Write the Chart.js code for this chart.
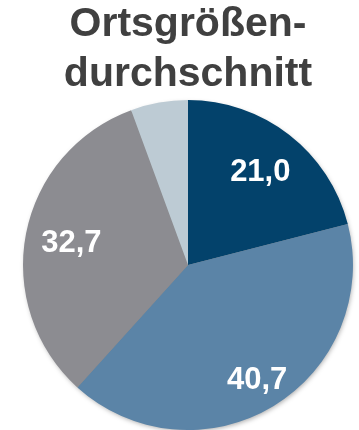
<!DOCTYPE html>
<html><head><meta charset="utf-8">
<script src="https://cdn.jsdelivr.net/npm/chart.js@4"></script>
<style>html,body{margin:0;padding:0;background:#fff}#w{width:359px;height:430px}</style>
</head><body><div id="w"><canvas id="c"></canvas></div>
<script>
const titleLines = ['Ortsgrößen-', 'durchschnitt'];
const categories = ['A', 'B', 'C', 'D'];
const values = [21.0, 40.7, 32.7, 5.6];
const valueLabels = ['21,0', '40,7', '32,7', ''];
const colors = ['#03426b', '#5b84a7', '#8c8c91', '#bdcbd4'];

const shadowPlugin = {
  id: 'pieShadow',
  beforeDatasetsDraw(chart) {
    const a = chart.getDatasetMeta(0).data[0];
    if (!a) return;
    const ctx = chart.ctx;
    ctx.save();
    ctx.shadowColor = 'rgba(0,0,0,0.35)';
    ctx.shadowBlur = 5;
    ctx.shadowOffsetX = 1;
    ctx.shadowOffsetY = 2;
    ctx.fillStyle = '#888';
    ctx.beginPath();
    ctx.arc(a.x, a.y, a.outerRadius - 1, 0, Math.PI * 2);
    ctx.fill();
    ctx.restore();
  }
};
const labelPlugin = {
  id: 'sliceLabels',
  afterDatasetsDraw(chart, args, opts) {
    const ctx = chart.ctx;
    const meta = chart.getDatasetMeta(0);
    ctx.save();
    ctx.fillStyle = '#ffffff';
    ctx.font = 'bold 31px "Liberation Sans", Arial, sans-serif';
    ctx.textAlign = 'center';
    ctx.textBaseline = 'middle';
    meta.data.forEach((arc, i) => {
      const t = valueLabels[i];
      if (!t) return;
      const mid = (arc.startAngle + arc.endAngle) / 2;
      const r = arc.outerRadius * opts.dist[i];
      ctx.fillText(t, arc.x + Math.cos(mid) * r, arc.y + Math.sin(mid) * r + 1);
    });
    ctx.restore();
  }
};

new Chart(document.getElementById('c'), {
  type: 'pie',
  data: {
    labels: categories,
    datasets: [{ data: values, backgroundColor: colors, borderWidth: 0, hoverOffset: 0 }]
  },
  options: {
    responsive: true,
    maintainAspectRatio: false,
    animation: false,
    events: [],
    layout: { padding: { left: 17, right: 0, top: 0, bottom: 0 } },
    plugins: {
      legend: { display: false },
      tooltip: { enabled: false },
      title: {
        display: true,
        text: titleLines,
        color: '#404040',
        font: { family: '"Liberation Sans", Arial, sans-serif', size: 41, weight: 'bold', lineHeight: 1.22 },
        padding: { top: 0, bottom: 0 }
      },
      sliceLabels: { dist: [0.715, 0.81, 0.72, 0.7] }
    }
  },
  plugins: [shadowPlugin, labelPlugin]
});
</script></body></html>
